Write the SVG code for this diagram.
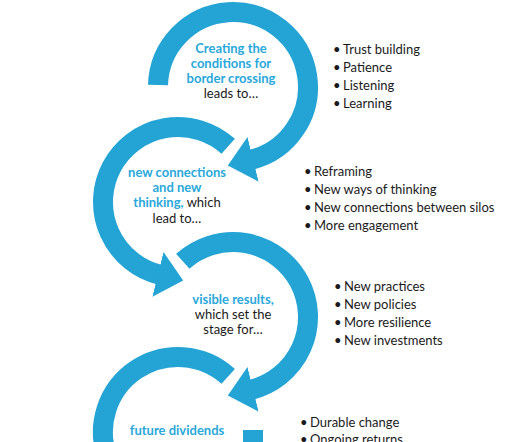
<svg xmlns="http://www.w3.org/2000/svg" width="531" height="442" viewBox="0 0 531 442">
<style>
  .arc { fill: none; stroke: #23a4d5; stroke-width: 20; stroke-linecap: butt; }
  .hd { fill: #23a4d5; }
  .t { font-family: Lato, "Open Sans", "Liberation Sans", sans-serif; font-size: 13px; fill: #1a1a1a; }
  .b { font-weight: 700; fill: #29a8da; }
  .c { text-anchor: middle; }
  .li { font-family: Lato, "Open Sans", "Liberation Sans", sans-serif; font-size: 13px; fill: #1a1a1a; }
</style>
<defs>
  <marker id="head" viewBox="-2 0 26 46" refX="0" refY="23" markerWidth="26" markerHeight="46" markerUnits="userSpaceOnUse" orient="auto">
    <path class="hd" d="M-2,0 L24,23 L-2,46 Z"/>
  </marker>
</defs>
<rect width="531" height="442" fill="#ffffff"/>
<g id="connectors">
  <path class="arc" d="M158,85 A75,75 0 1 1 251.1,159.8" marker-end="url(#head)"/>
  <path class="arc" d="M228.2,146.3 A75,75 0 1 0 159.9,274.8" marker-end="url(#head)"/>
  <path class="arc" d="M182.8,261.3 A75,75 0 1 1 251.1,389.8" marker-end="url(#head)"/>
  <path class="arc" d="M228.2,376.3 A75,75 0 0 0 107.5,457.7"/>
  <rect x="243" y="430" width="20" height="12" fill="#23a4d5"/>
</g>
<g id="node1">
  <text class="t b c" x="231" y="53">Creating the</text>
  <text class="t b c" x="231" y="68">conditions for</text>
  <text class="t b c" x="231" y="83">border crossing</text>
  <text class="t c" x="231" y="98">leads to…</text>
  <text class="li" x="333" y="54">•<tspan x="343">Trust building</tspan></text>
  <text class="li" x="333" y="72">•<tspan x="343">Patience</tspan></text>
  <text class="li" x="333" y="90">•<tspan x="343">Listening</tspan></text>
  <text class="li" x="333" y="108">•<tspan x="343">Learning</tspan></text>
</g>
<g id="node2">
  <text class="t b c" x="177" y="177">new connections</text>
  <text class="t b c" x="177" y="192">and new</text>
  <text class="t c" x="177" y="207"><tspan class="b">thinking,</tspan> which</text>
  <text class="t c" x="177" y="223">lead to…</text>
  <text class="li" x="304" y="176">•<tspan x="314">Reframing</tspan></text>
  <text class="li" x="304" y="194">•<tspan x="314">New ways of thinking</tspan></text>
  <text class="li" x="304" y="212">•<tspan x="314">New connections between silos</tspan></text>
  <text class="li" x="304" y="230">•<tspan x="314">More engagement</tspan></text>
</g>
<g id="node3">
  <text class="t b c" x="233" y="304">visible results,</text>
  <text class="t c" x="233" y="319">which set the</text>
  <text class="t c" x="233" y="334">stage for…</text>
  <text class="li" x="334" y="291">•<tspan x="344">New practices</tspan></text>
  <text class="li" x="334" y="309">•<tspan x="344">New policies</tspan></text>
  <text class="li" x="334" y="327">•<tspan x="344">More resilience</tspan></text>
  <text class="li" x="334" y="345">•<tspan x="344">New investments</tspan></text>
</g>
<g id="node4">
  <text class="t b c" x="177" y="435">future dividends</text>
  <text class="li" x="300" y="427">•<tspan x="310">Durable change</tspan></text>
  <text class="li" x="300" y="444">•<tspan x="310">Ongoing returns</tspan></text>
</g>
</svg>
